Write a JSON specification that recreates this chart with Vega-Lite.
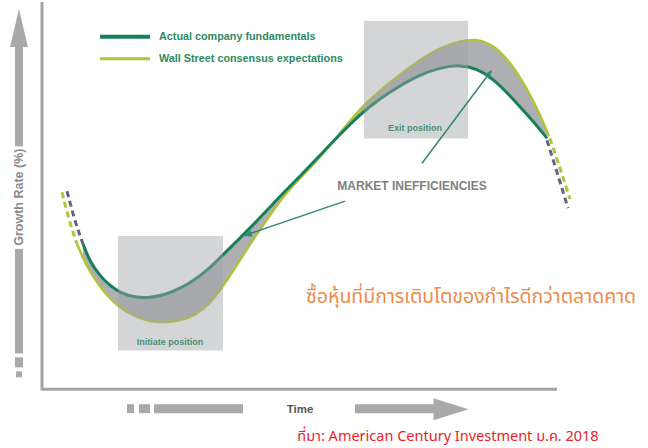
{
  "$schema": "https://vega.github.io/schema/vega-lite/v6.json",
  "width": 648,
  "height": 448,
  "padding": 0,
  "autosize": {"type": "fit", "contains": "padding"},
  "background": "white",
  "config": {"view": {"stroke": null}},
  "datasets": {
    "boxes": [
      {"x": 118, "x2": 223, "y": 235, "y2": 350},
      {"x": 364, "x2": 468, "y": 19, "y2": 137}
    ],
    "band": [
      {"x": 83, "y": 243, "y2": 257},
      {"x": 90, "y": 261, "y2": 271},
      {"x": 100, "y": 275, "y2": 286},
      {"x": 110, "y": 285, "y2": 298},
      {"x": 120, "y": 292, "y2": 307},
      {"x": 135, "y": 297, "y2": 316},
      {"x": 150, "y": 297, "y2": 321},
      {"x": 165, "y": 294, "y2": 322},
      {"x": 180, "y": 288, "y2": 320},
      {"x": 195, "y": 279, "y2": 315},
      {"x": 210, "y": 267, "y2": 303},
      {"x": 225, "y": 252, "y2": 283},
      {"x": 240, "y": 237, "y2": 259},
      {"x": 255, "y": 222, "y2": 236},
      {"x": 270, "y": 206, "y2": 214},
      {"x": 285, "y": 190, "y2": 193},
      {"x": 300, "y": 175, "y2": 177},
      {"x": 320, "y": 154, "y2": 156},
      {"x": 340, "y": 133, "y2": 132},
      {"x": 360, "y": 113, "y2": 107},
      {"x": 380, "y": 97, "y2": 89},
      {"x": 400, "y": 84, "y2": 73},
      {"x": 420, "y": 73, "y2": 58},
      {"x": 440, "y": 66, "y2": 46},
      {"x": 460, "y": 63, "y2": 39},
      {"x": 477, "y": 67, "y2": 37},
      {"x": 493, "y": 77, "y2": 43},
      {"x": 510, "y": 94, "y2": 60},
      {"x": 527, "y": 113, "y2": 87},
      {"x": 540, "y": 128, "y2": 113},
      {"x": 547, "y": 137, "y2": 131}
    ],
    "wsline": [
      {"x": 77, "y": 243},
      {"x": 83, "y": 257},
      {"x": 90, "y": 271},
      {"x": 100, "y": 286},
      {"x": 110, "y": 298},
      {"x": 120, "y": 307},
      {"x": 135, "y": 316},
      {"x": 150, "y": 321},
      {"x": 165, "y": 322},
      {"x": 180, "y": 320},
      {"x": 195, "y": 315},
      {"x": 210, "y": 303},
      {"x": 225, "y": 283},
      {"x": 240, "y": 259},
      {"x": 255, "y": 236},
      {"x": 270, "y": 214},
      {"x": 285, "y": 193},
      {"x": 300, "y": 177},
      {"x": 320, "y": 156},
      {"x": 340, "y": 132},
      {"x": 360, "y": 107},
      {"x": 380, "y": 89},
      {"x": 400, "y": 73},
      {"x": 420, "y": 58},
      {"x": 440, "y": 46},
      {"x": 460, "y": 39},
      {"x": 477, "y": 37},
      {"x": 493, "y": 43},
      {"x": 510, "y": 60},
      {"x": 527, "y": 87},
      {"x": 540, "y": 113},
      {"x": 549, "y": 135}
    ],
    "dashGray": [
      {"seg": "a", "x": 67, "y": 190},
      {"seg": "a", "x": 74, "y": 216},
      {"seg": "a", "x": 83, "y": 243},
      {"seg": "b", "x": 547, "y": 139},
      {"seg": "b", "x": 557, "y": 171},
      {"seg": "b", "x": 568, "y": 207}
    ],
    "dashLime": [
      {"seg": "a", "x": 62, "y": 191},
      {"seg": "a", "x": 69, "y": 218},
      {"seg": "a", "x": 77, "y": 243},
      {"seg": "b", "x": 550, "y": 137},
      {"seg": "b", "x": 560, "y": 167},
      {"seg": "b", "x": 570, "y": 198}
    ],
    "axes": [
      {"x": 42, "y": 0, "x2": 42, "y2": 390},
      {"x": 42, "y": 389, "x2": 557, "y2": 389}
    ],
    "grayParts": [
      {"x": 15, "x2": 23, "y": 44, "y2": 145},
      {"x": 15, "x2": 23, "y": 248, "y2": 353},
      {"x": 15, "x2": 23, "y": 357, "y2": 367},
      {"x": 16, "x2": 22, "y": 371, "y2": 377},
      {"x": 127, "x2": 134, "y": 404, "y2": 413},
      {"x": 139, "x2": 150, "y": 404, "y2": 413},
      {"x": 154, "x2": 243, "y": 404, "y2": 413},
      {"x": 355, "x2": 434, "y": 404, "y2": 413}
    ],
    "arrowShafts": [
      {"x": 422, "y": 162, "x2": 489, "y2": 72},
      {"x": 345, "y": 200, "x2": 249, "y2": 233}
    ]
  },
  "encoding": {
    "x": {"field": "x", "type": "quantitative", "scale": {"domain": [0, 648], "nice": false, "zero": false}, "axis": null},
    "y": {"field": "y", "type": "quantitative", "scale": {"domain": [0, 448], "nice": false, "zero": false, "reverse": true}, "axis": null}
  },
  "layer": [
    {
      "data": {"name": "band"},
      "mark": {"type": "area", "fill": "#a9abae", "interpolate": "basis", "opacity": 0.95},
      "encoding": {"y2": {"field": "y2"}}
    },
    {
      "data": {"name": "wsline"},
      "mark": {"type": "line", "stroke": "#b3c23a", "strokeWidth": 2.5, "interpolate": "basis"}
    },
    {
      "data": {"name": "band"},
      "mark": {"type": "line", "stroke": "#17805a", "strokeWidth": 3, "interpolate": "basis"}
    },
    {
      "data": {"name": "dashLime"},
      "mark": {"type": "line", "stroke": "#b3c23a", "strokeWidth": 3, "strokeDash": [6, 4], "interpolate": "monotone"},
      "encoding": {"detail": {"field": "seg"}}
    },
    {
      "data": {"name": "dashGray"},
      "mark": {"type": "line", "stroke": "#5d6584", "strokeWidth": 3, "strokeDash": [6, 4], "interpolate": "monotone"},
      "encoding": {"detail": {"field": "seg"}}
    },
    {
      "data": {"name": "boxes"},
      "mark": {"type": "rect", "fill": "#a0a2a5", "opacity": 0.45},
      "encoding": {"x2": {"field": "x2"}, "y2": {"field": "y2"}}
    },
    {
      "data": {"name": "axes"},
      "mark": {"type": "rule", "stroke": "#a3a3a3", "strokeWidth": 3},
      "encoding": {"x2": {"field": "x2"}, "y2": {"field": "y2"}}
    },
    {
      "data": {"name": "grayParts"},
      "mark": {"type": "rect", "fill": "#a9a9a9"},
      "encoding": {"x2": {"field": "x2"}, "y2": {"field": "y2"}}
    },
    {
      "data": {"values": [{"x": 19, "y": 26}]},
      "mark": {"type": "point", "filled": true, "fill": "#a9a9a9", "opacity": 1, "shape": "M0,-1L0.47,1L-0.47,1Z", "size": 1444}
    },
    {
      "data": {"values": [{"x": 451, "y": 409}]},
      "mark": {"type": "point", "filled": true, "fill": "#a9a9a9", "opacity": 1, "shape": "M1,0L-1,-0.63L-1,0.63Z", "size": 1225}
    },
    {
      "data": {"name": "arrowShafts"},
      "mark": {"type": "rule", "stroke": "#2e8b6e", "strokeWidth": 1.5},
      "encoding": {"x2": {"field": "x2"}, "y2": {"field": "y2"}}
    },
    {
      "data": {"values": [{"x": 489.6, "y": 71.2}]},
      "mark": {"type": "point", "filled": true, "fill": "#2e8b6e", "opacity": 1, "shape": "M0,-1L0.8,1L-0.8,1Z", "size": 64, "angle": 37}
    },
    {
      "data": {"values": [{"x": 247.8, "y": 233.7}]},
      "mark": {"type": "point", "filled": true, "fill": "#2e8b6e", "opacity": 1, "shape": "M0,-1L0.8,1L-0.8,1Z", "size": 64, "angle": 251}
    },
    {
      "data": {"values": [{"x": 100, "y": 35, "x2": 150, "y2": 35}]},
      "mark": {"type": "rule", "stroke": "#17805a", "strokeWidth": 4},
      "encoding": {"x2": {"field": "x2"}, "y2": {"field": "y2"}}
    },
    {
      "data": {"values": [{"x": 100, "y": 57, "x2": 150, "y2": 57}]},
      "mark": {"type": "rule", "stroke": "#b3c23a", "strokeWidth": 3},
      "encoding": {"x2": {"field": "x2"}, "y2": {"field": "y2"}}
    },
    {
      "data": {"values": [
        {"x": 159, "y": 35, "label": "Actual company fundamentals"},
        {"x": 159, "y": 57, "label": "Wall Street consensus expectations"}
      ]},
      "mark": {"type": "text", "align": "left", "baseline": "middle", "font": "Liberation Sans", "fontSize": 10.8, "fontWeight": "bold", "fill": "#2f8a60"},
      "encoding": {"text": {"field": "label"}}
    },
    {
      "data": {"values": [
        {"x": 170, "y": 342, "label": "Initiate position"},
        {"x": 415, "y": 127, "label": "Exit position"}
      ]},
      "mark": {"type": "text", "align": "center", "baseline": "middle", "font": "Liberation Sans", "fontSize": 9, "fontWeight": "bold", "fill": "#4a8f78"},
      "encoding": {"text": {"field": "label"}}
    },
    {
      "data": {"values": [{"x": 412, "y": 185, "label": "MARKET INEFFICIENCIES"}]},
      "mark": {"type": "text", "align": "center", "baseline": "middle", "font": "Liberation Sans", "fontSize": 12, "fontWeight": "bold", "fill": "#7f7f7f"},
      "encoding": {"text": {"field": "label"}}
    },
    {
      "data": {"values": [{"x": 471, "y": 296, "label": "ซื้อหุ้นที่มีการเติบโตของกำไรดีกว่าตลาดคาด"}]},
      "mark": {"type": "text", "align": "center", "baseline": "middle", "font": "Noto Sans Thai, Loma, Garuda, sans-serif", "fontSize": 19.5, "fill": "#f08a4b"},
      "encoding": {"text": {"field": "label"}}
    },
    {
      "data": {"values": [{"x": 448, "y": 437, "label": "ที่มา: American Century Investment ม.ค. 2018"}]},
      "mark": {"type": "text", "align": "center", "baseline": "middle", "font": "Noto Sans Thai, Loma, Garuda, sans-serif", "fontSize": 14.5, "fill": "#e8232a"},
      "encoding": {"text": {"field": "label"}}
    },
    {
      "data": {"values": [{"x": 19, "y": 196, "label": "Growth Rate (%)"}]},
      "mark": {"type": "text", "align": "center", "baseline": "middle", "angle": 270, "font": "Liberation Sans", "fontSize": 12.5, "fontWeight": "bold", "fill": "#8a8a8a"},
      "encoding": {"text": {"field": "label"}}
    },
    {
      "data": {"values": [{"x": 300, "y": 410, "label": "Time"}]},
      "mark": {"type": "text", "align": "center", "baseline": "middle", "font": "Liberation Sans", "fontSize": 11.5, "fontWeight": "bold", "fill": "#555555"},
      "encoding": {"text": {"field": "label"}}
    }
  ]
}
